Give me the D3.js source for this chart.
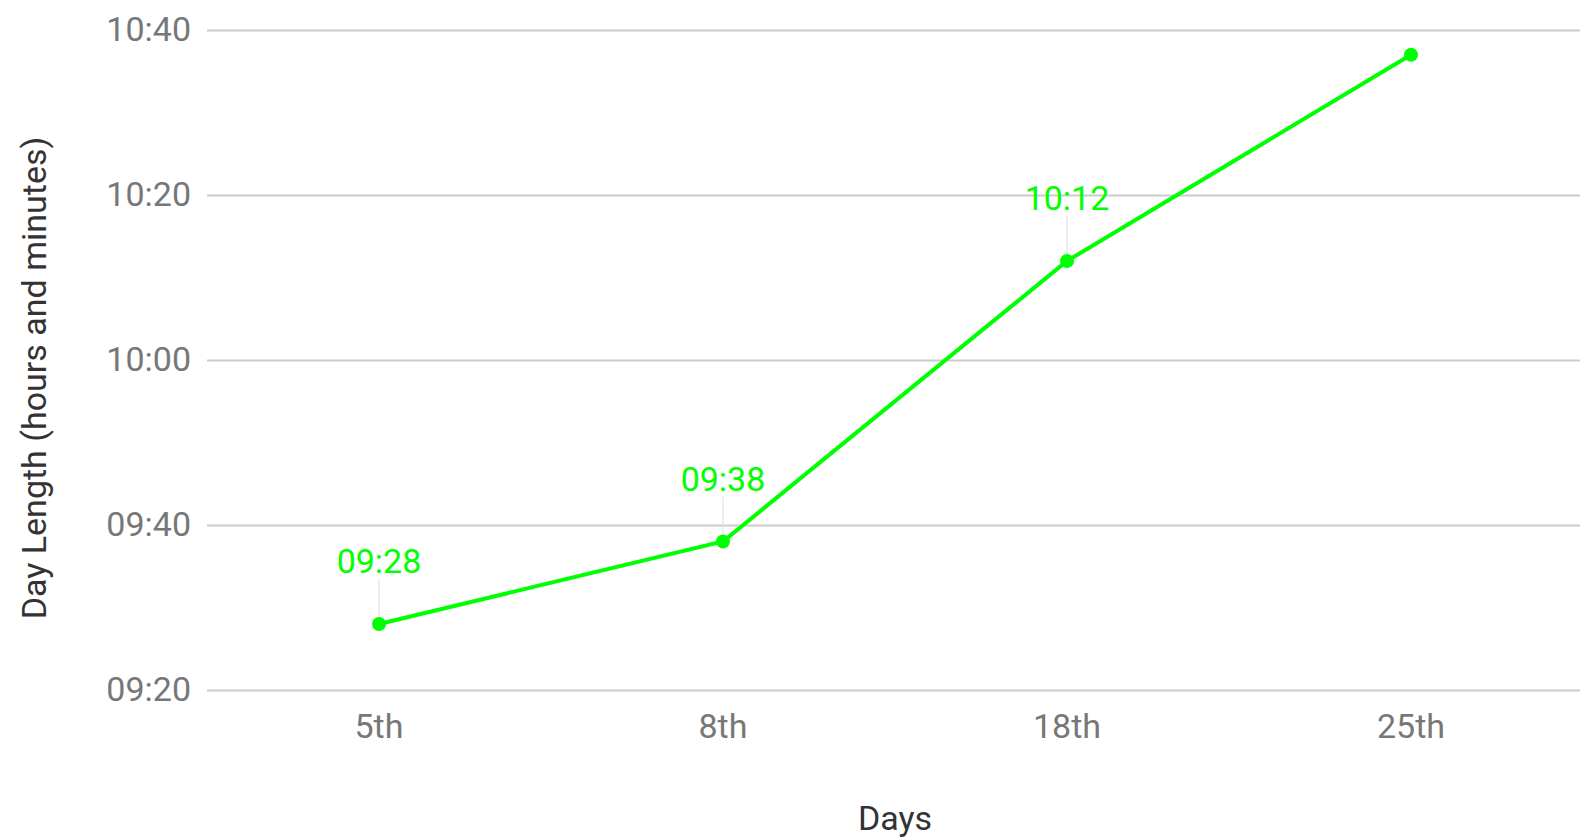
<!DOCTYPE html>
<html>
<head>
<meta charset="utf-8">
<script src="https://cdn.jsdelivr.net/npm/d3@7"></script>
<style>
  body { margin: 0; background: #fff; }
  svg { display: block; font-family: Roboto, sans-serif; }
</style>
</head>
<body>
<main></main>
<script>
'use strict';

// data, day length in minutes since midnight
const days = ['5th', '8th', '18th', '25th'];
const dayLength = [568, 578, 612, 637];
const annotations = ['09:28', '09:38', '10:12', null];
const yTicks = [560, 580, 600, 620, 640];

const WIDTH = 1580, HEIGHT = 838;
const plot = { left: 207, right: 1583, top: 30, bottom: 690 };
const LINE_COLOR = '#00ff00';
const FONT_SIZE = 34;

const fmt = (m) => d3.format('02d')(Math.floor(m / 60)) + ':' + d3.format('02d')(m % 60);

const svg = d3.select('main')
  .append('svg')
  .attr('width', WIDTH)
  .attr('height', HEIGHT);

const x = d3.scaleBand()
  .domain(days)
  .range([plot.left, plot.right]);

const y = d3.scaleLinear()
  .domain([560, 640])
  .range([plot.bottom, plot.top]);

const cx = d => x(d) + x.bandwidth() / 2;

// gridlines + y labels
const yAxis = d3.axisLeft(y)
  .tickValues(yTicks)
  .tickFormat(fmt)
  .tickSize(-(plot.right - plot.left))
  .tickPadding(16);

svg.append('g')
  .attr('transform', 'translate(' + plot.left + ',0)')
  .call(yAxis)
  .call(g => g.select('.domain').remove())
  .call(g => g.selectAll('.tick line').attr('stroke', '#cccccc').attr('stroke-width', 2))
  .call(g => g.selectAll('.tick text')
    .attr('fill', '#777777')
    .style('font-size', FONT_SIZE + 'px')
    .style('font-family', 'Roboto'));

// x labels
const xAxis = d3.axisBottom(x)
  .tickSize(0)
  .tickPadding(24);

svg.append('g')
  .attr('transform', 'translate(0,' + plot.bottom + ')')
  .call(xAxis)
  .call(g => g.select('.domain').remove())
  .call(g => g.selectAll('.tick text')
    .attr('fill', '#777777')
    .style('font-size', FONT_SIZE + 'px')
    .style('font-family', 'Roboto'));

// axis titles
svg.append('text')
  .attr('x', (plot.left + plot.right) / 2)
  .attr('y', 830)
  .attr('text-anchor', 'middle')
  .attr('fill', '#333')
  .style('font-size', FONT_SIZE + 'px')
  .text('Days');

svg.append('text')
  .attr('transform', 'translate(46,378) rotate(-90)')
  .attr('text-anchor', 'middle')
  .attr('fill', '#333')
  .style('font-size', FONT_SIZE + 'px')
  .text('Day Length (hours and minutes)');

const points = days.map((d, i) => ({ day: d, value: dayLength[i], note: annotations[i] }));

// annotation stems
const notes = points.filter(p => p.note);

svg.append('g')
  .selectAll('line')
  .data(notes)
  .enter()
  .append('line')
  .attr('x1', d => cx(d.day))
  .attr('x2', d => cx(d.day))
  .attr('y1', d => y(d.value))
  .attr('y2', d => y(d.value) - 45)
  .attr('stroke', '#dddddd')
  .attr('stroke-width', 1);

// line
const line = d3.line()
  .x(d => cx(d.day))
  .y(d => y(d.value));

svg.append('path')
  .datum(points)
  .attr('d', line)
  .attr('fill', 'none')
  .attr('stroke', LINE_COLOR)
  .attr('stroke-width', 4);

svg.append('g')
  .selectAll('circle')
  .data(points)
  .enter()
  .append('circle')
  .attr('cx', d => cx(d.day))
  .attr('cy', d => y(d.value))
  .attr('r', 7)
  .attr('fill', LINE_COLOR);

// annotation labels
svg.append('g')
  .selectAll('text')
  .data(notes)
  .enter()
  .append('text')
  .attr('x', d => cx(d.day))
  .attr('y', d => y(d.value) - 51)
  .attr('text-anchor', 'middle')
  .attr('fill', LINE_COLOR)
  .style('font-size', FONT_SIZE + 'px')
  .text(d => d.note);
</script>
</body>
</html>
